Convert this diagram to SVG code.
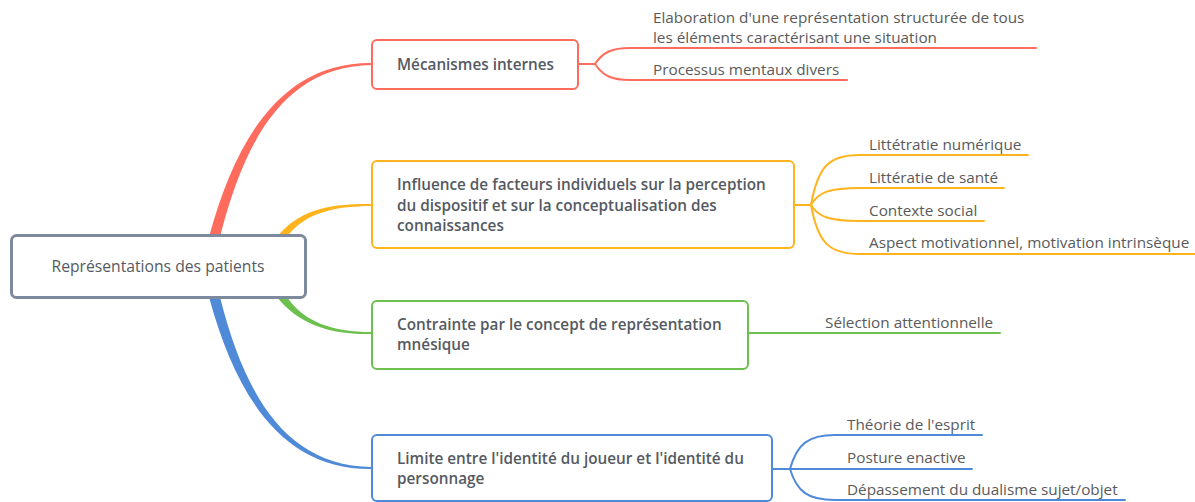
<svg xmlns="http://www.w3.org/2000/svg" width="1195" height="502" viewBox="0 0 1195 502">
<style>
.node{fill:#ffffff;stroke-width:2}
.t{font-family:"Open Sans","Liberation Sans",sans-serif;font-size:15.3px;fill:#555a62}
.nt{font-weight:600}
.rt{font-size:15.7px}
.c{font-family:"Open Sans","Liberation Sans",sans-serif;font-size:15.3px;fill:#5a5a5a}
.sub{fill:none;stroke-width:2;stroke-linecap:round}
</style>
<rect width="1195" height="502" fill="#ffffff"/>
<g id="connectors">
  <path d="M 209 237 C 236 138 282 62 372 63 L 372 65 C 284 66 244 142 220 237 Z" fill="#ff6b5c"/>
  <path d="M 277 237 C 298 210 330 203 372 204 L 372 206 C 332 206 304 214 287 237 Z" fill="#ffb41e"/>
  <path d="M 277 297 C 298 324 330 335 372 334 L 372 332 C 332 332 304 322 287 297 Z" fill="#6cc04e"/>
  <path d="M 209 297 C 236 396 282 470 372 469 L 372 467 C 284 466 244 392 220 297 Z" fill="#4f8ad9"/>
  <g stroke="#ff6b5c" class="sub">
    <path d="M 578 64 L 595 64 C 603 52 612 48 630 48 L 1036 48"/>
    <path d="M 595 64 C 603 76 612 80 630 80 L 847 80"/>
  </g>
  <g stroke="#ffb41e" class="sub">
    <path d="M 794 205 L 811 205 C 818 165 830 155 860 155 L 1028 155"/>
    <path d="M 811 205 C 818 192 830 188 860 188 L 1004 188"/>
    <path d="M 811 205 C 818 217 830 221 860 221 L 984 221"/>
    <path d="M 811 205 C 818 244 830 254 860 254 L 1195 254"/>
  </g>
  <g stroke="#6cc04e" class="sub">
    <path d="M 748 333 L 1000 333"/>
  </g>
  <g stroke="#4f8ad9" class="sub">
    <path d="M 772 469 L 790 469 C 797 444 808 435 835 435 L 982 435"/>
    <path d="M 790 469 L 972 469"/>
    <path d="M 790 469 C 797 492 808 500 835 500 L 1125 500"/>
  </g>
</g>
<g id="root">
  <rect x="11.5" y="235.5" width="294" height="62" rx="5" fill="#ffffff" stroke="#7d899c" stroke-width="3"/>
  <text class="t rt" x="158" y="272" text-anchor="middle">Représentations des patients</text>
</g>
<g id="n-mecanismes">
  <rect class="node" x="372" y="40" width="206" height="49" rx="5" stroke="#ff6b5c"/>
  <text class="t nt" x="397" y="70">Mécanismes internes</text>
</g>
<g id="n-influence">
  <rect class="node" x="372" y="161" width="422" height="87" rx="5" stroke="#ffb41e"/>
  <text class="t nt" x="397" y="190">Influence de facteurs individuels sur la perception</text>
  <text class="t nt" x="397" y="211">du dispositif et sur la conceptualisation des</text>
  <text class="t nt" x="397" y="231">connaissances</text>
</g>
<g id="n-contrainte">
  <rect class="node" x="372" y="301" width="376" height="68" rx="5" stroke="#6cc04e"/>
  <text class="t nt" x="397" y="330">Contrainte par le concept de représentation</text>
  <text class="t nt" x="397" y="350">mnésique</text>
</g>
<g id="n-limite">
  <rect class="node" x="372" y="435" width="400" height="66" rx="5" stroke="#4f8ad9"/>
  <text class="t nt" x="397" y="464">Limite entre l'identité du joueur et l'identité du</text>
  <text class="t nt" x="397" y="484">personnage</text>
</g>
<g id="c-elaboration"><text class="c" x="653" y="23">Elaboration d'une représentation structurée de tous</text><text class="c" x="653" y="43">les éléments caractérisant une situation</text></g>
<g id="c-processus"><text class="c" x="653" y="75">Processus mentaux divers</text></g>
<g id="c-litt-num"><text class="c" x="869" y="150">Littétratie numérique</text></g>
<g id="c-litt-sante"><text class="c" x="869" y="183">Littératie de santé</text></g>
<g id="c-contexte"><text class="c" x="869" y="216">Contexte social</text></g>
<g id="c-aspect"><text class="c" x="869" y="248">Aspect motivationnel, motivation intrinsèque</text></g>
<g id="c-selection"><text class="c" x="825" y="328">Sélection attentionnelle</text></g>
<g id="c-theorie"><text class="c" x="847" y="430">Théorie de l'esprit</text></g>
<g id="c-posture"><text class="c" x="847" y="463">Posture enactive</text></g>
<g id="c-depassement"><text class="c" x="847" y="495">Dépassement du dualisme sujet/objet</text></g>
</svg>
